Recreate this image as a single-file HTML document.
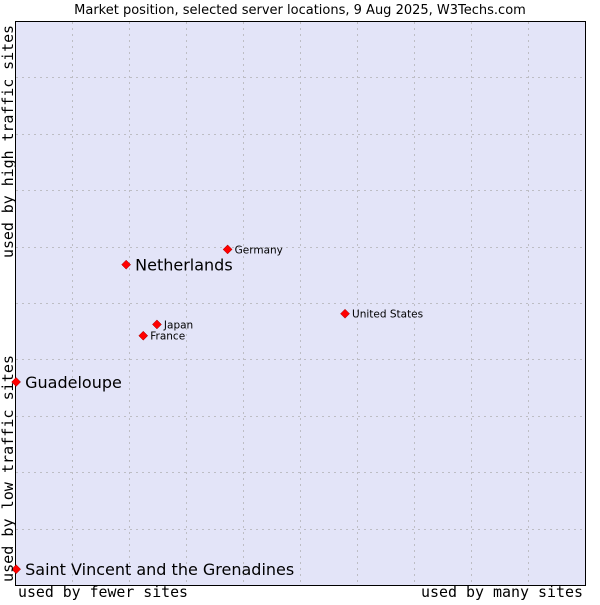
<!DOCTYPE html>
<html><head><meta charset="utf-8"><style>
body{margin:0;background:#fff;width:600px;height:600px;overflow:hidden}
svg text{font-family:"DejaVu Sans","Liberation Sans",sans-serif}
svg text.mono{font-family:"DejaVu Sans Mono","Liberation Mono",monospace}
</style></head><body>
<svg id="chart" width="600" height="600">
<text x="300" y="14" text-anchor="middle" font-size="13" fill="#000">Market position, selected server locations, 9 Aug 2025, W3Techs.com</text>
<rect x="15.5" y="21.5" width="570" height="564" fill="#e3e4f8" stroke="#000"/>
<g id="grid"></g>
<g id="pts"></g>
<text class="mono" x="18" y="597" font-size="15" textLength="170" lengthAdjust="spacingAndGlyphs">used by fewer sites</text>
<text class="mono" x="421" y="597" font-size="15" textLength="162" lengthAdjust="spacingAndGlyphs">used by many sites</text>
<text class="mono" transform="translate(13,258) rotate(-90)" font-size="15" textLength="233" lengthAdjust="spacingAndGlyphs">used by high traffic sites</text>
<text class="mono" transform="translate(13,582) rotate(-90)" font-size="15" textLength="227" lengthAdjust="spacingAndGlyphs">used by low traffic sites</text>
</svg>
<script>
const names=["Netherlands","Germany","United States","Japan","France","Guadeloupe","Saint Vincent and the Grenadines"];
const xs=[19.5,37.3,57.9,24.9,22.5,0.2,0.2];
const ys=[56.8,59.5,48.1,46.2,44.2,36.0,2.8];
const big=[true,false,false,false,false,true,true];
const L=15,R=585,T=21,B=585;
const sx=v=>L+v/100*(R-L), sy=v=>B-v/100*(B-T);
const NS="http://www.w3.org/2000/svg";
const g=document.getElementById('grid'), p=document.getElementById('pts');
for(let i=1;i<10;i++){
  const a=document.createElementNS(NS,'line');
  
  
  const x=Math.round(sx(i*10))+0.5;
  a.setAttribute('x1',x);a.setAttribute('x2',x);a.setAttribute('y1',T+1);a.setAttribute('y2',B);
  a.setAttribute('stroke','#bdbdc4');a.setAttribute('stroke-dasharray','2,4');g.appendChild(a);
  const b=document.createElementNS(NS,'line');
  
  
  const y=Math.round(sy(i*10))+0.5;
  b.setAttribute('x1',L+1);b.setAttribute('x2',R);b.setAttribute('y1',y);b.setAttribute('y2',y);
  b.setAttribute('stroke','#bdbdc4');b.setAttribute('stroke-dasharray','2,4');g.appendChild(b);
}
names.forEach((n,i)=>{
  const x=sx(xs[i]),y=sy(ys[i]);
  const d=document.createElementNS(NS,'path');
  
  
  d.setAttribute('d',`M${x} ${y-4.5}L${x+4.5} ${y}L${x} ${y+4.5}L${x-4.5} ${y}Z`);
  d.setAttribute('fill','#f00');d.setAttribute('stroke','#900');d.setAttribute('stroke-width','0.5');p.appendChild(d);
  const t=document.createElementNS(NS,'text');
  
  
  t.setAttribute('x',x+(big[i]?9:7));t.setAttribute('y',y+(big[i]?6:4));
  t.setAttribute('font-size',big[i]?16:10.5);t.textContent=n;p.appendChild(t);
});
</script>
</body></html>
